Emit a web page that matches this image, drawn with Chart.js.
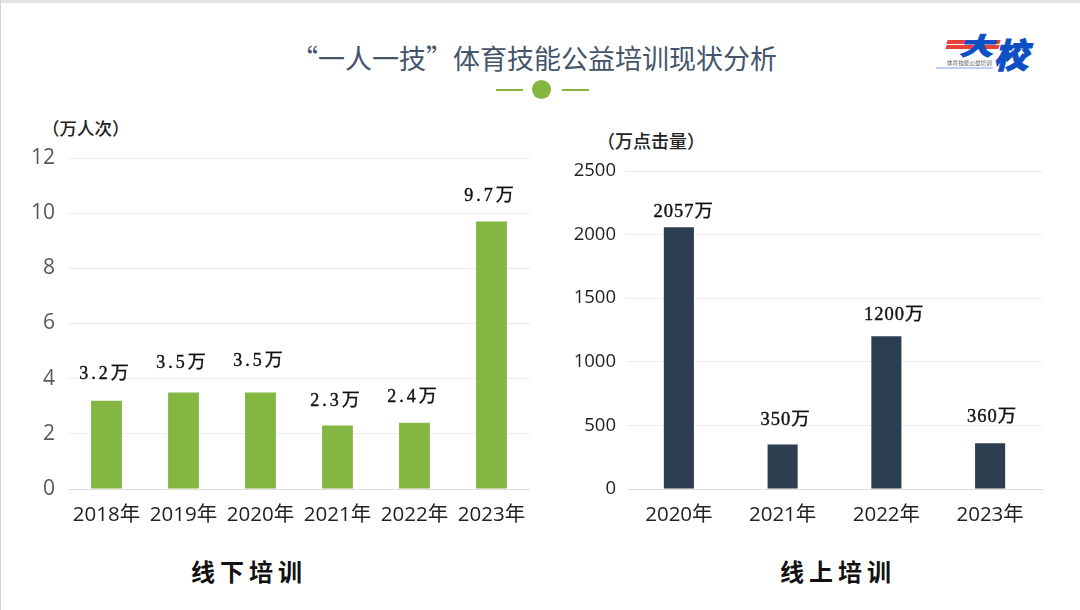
<!DOCTYPE html>
<html lang="zh">
<head>
<meta charset="utf-8">
<script src="https://cdn.jsdelivr.net/npm/chart.js@4"></script>
<style>
  html, body { margin: 0; padding: 0; background: #fff; }
  #page { position: relative; width: 1080px; height: 610px; overflow: hidden; background: #fff;
    font-family: "Noto Sans CJK SC", sans-serif; }
  #page .topline { position: absolute; left: 0; top: 0; width: 1080px; height: 3px; background: #e2e2e2; }
  #page .leftline { position: absolute; left: 0; top: 0; width: 1px; height: 610px; background: #d4d4d4; }
  .abs { position: absolute; white-space: nowrap; }
  #title { left: 291px; top: 39px; font-size: 27px; line-height: 38px; color: #44546a; }
  .dash { position: absolute; top: 89px; width: 27px; height: 2px; background: #84b642; }
  #dot { position: absolute; left: 532px; top: 80px; width: 19px; height: 19px; border-radius: 50%; background: #84b642; }
  canvas { position: absolute; }
  .unit { font-weight: 500; color: #222; line-height: 20px; }
  .caption { font-size: 24px; font-weight: 700; letter-spacing: 5px; color: #111; line-height: 34px; }
  .stripe { position: absolute; background: #e8413a; height: 4px; transform: skewX(-20deg); }
  #logoA, #logoB { font-weight: 900; color: #0f4fc4; font-style: italic; -webkit-text-stroke: 1px #0f4fc4; }
  #logoA { left: 959px; top: 33px; font-size: 34px; line-height: 34px; transform: scale(1, 0.72); transform-origin: top; }
  #logoB { left: 994px; top: 36px; font-size: 34px; line-height: 36px; }
  #logoSub { left: 947px; top: 60px; font-size: 5.6px; line-height: 7px; color: #555; }
  #logoLine { position: absolute; left: 936px; top: 67px; width: 57px; height: 2px; background: #bcd0f0; }
</style>
</head>
<body>
<div id="page">
  <div class="topline"></div>
  <div class="leftline"></div>
  <div id="title" class="abs">“一人一技”体育技能公益培训现状分析</div>
  <div class="dash" style="left:496px"></div>
  <div id="dot"></div>
  <div class="dash" style="left:562px"></div>

  <div class="stripe" style="left:947px;top:40px;width:53px"></div>
  <div class="stripe" style="left:946px;top:45px;width:53px"></div>
  <div id="logoA" class="abs">大</div>
  <div id="logoB" class="abs">校</div>
  <div id="logoSub" class="abs">体育技能公益培训</div>
  <div id="logoLine"></div>

  <div class="abs unit" style="left:42px;top:118px;font-size:17.5px">（万人次）</div>
  <div class="abs unit" style="left:597px;top:130px;font-size:18px">（万点击量）</div>

  <canvas id="offlineChart" style="left:0;top:140px"></canvas>
  <canvas id="onlineChart" style="left:550px;top:150px"></canvas>

  <div class="abs caption" style="left:191px;top:554px">线下培训</div>
  <div class="abs caption" style="left:780px;top:554px">线上培训</div>
</div>

<script>
  const offlineYears = ['2018年', '2019年', '2020年', '2021年', '2022年', '2023年'];
  const offlineValues = [3.2, 3.5, 3.5, 2.3, 2.4, 9.7];
  const offlineLabels = ['3.2万', '3.5万', '3.5万', '2.3万', '2.4万', '9.7万'];
  const offlineTicks = [0, 2, 4, 6, 8, 10, 12];

  const onlineYears = ['2020年', '2021年', '2022年', '2023年'];
  const onlineValues = [2057, 350, 1200, 360];
  const onlineLabels = ['2057万', '350万', '1200万', '360万'];
  const onlineTicks = [0, 500, 1000, 1500, 2000, 2500];

  // the labels sit unevenly around the bars in the original
  const offlineLift = [26, 29, 31, 24, 26, 25];
  const offlineNudge = [-1, -1, -1, -1, -1, -1];
  const onlineLift = [15, 24, 21, 26];
  const onlineNudge = [5, 3, 8, 2];

  const tickFont = '"Open Sans", "Noto Sans CJK SC", sans-serif';

  const barLabels = {
    id: 'barLabels',
    afterDatasetsDraw(chart, args, opts) {
      const { ctx } = chart;
      const bars = chart.getDatasetMeta(0).data;
      ctx.save();
      ctx.font = opts.font;
      ctx.letterSpacing = opts.spacing;
      ctx.fillStyle = '#111';
      ctx.strokeStyle = '#111';
      ctx.lineWidth = 0.4;
      ctx.textAlign = 'center';
      ctx.textBaseline = 'middle';
      bars.forEach((bar, i) => {
        ctx.fillText(opts.texts[i], bar.x + opts.nudge[i], bar.y - opts.lift[i]);
        ctx.strokeText(opts.texts[i], bar.x + opts.nudge[i], bar.y - opts.lift[i]);
      });
      ctx.restore();
    },
  };

  function createChart(id, width, height, cfg) {
    const canvas = document.getElementById(id);
    canvas.style.width = width + 'px';
    canvas.style.height = height + 'px';
    canvas.width = width;
    canvas.height = height;
    return new Chart(canvas.getContext('2d'), {
      type: 'bar',
      data: {
        labels: cfg.years,
        datasets: [{
          data: cfg.values,
          backgroundColor: cfg.color,
          categoryPercentage: 1,
          barPercentage: cfg.barPercentage,
        }],
      },
      plugins: [barLabels],
      options: {
        responsive: false,
        animation: false,
        layout: { padding: { top: cfg.top, right: cfg.right, left: 0, bottom: 0 } },
        plugins: {
          legend: { display: false },
          tooltip: { enabled: false },
          barLabels: { texts: cfg.texts, lift: cfg.lift, nudge: cfg.nudge, font: cfg.labelFont, spacing: cfg.spacing },
        },
        scales: {
          x: {
            grid: { display: false, drawTicks: false },
            border: { color: '#dddddd' },
            ticks: {
              color: '#222',
              maxRotation: 0,
              autoSkip: false,
              padding: 14,
              font: { family: tickFont, size: 20.5 },
            },
            afterFit: (scale) => { scale.height = cfg.bottom; },
          },
          y: {
            min: cfg.ticks[0],
            max: cfg.ticks[cfg.ticks.length - 1],
            afterBuildTicks: (scale) => { scale.ticks = cfg.ticks.map(value => ({ value })); },
            grid: { color: '#ececec', drawTicks: false },
            border: { display: false },
            ticks: {
              color: cfg.tickColor,
              padding: cfg.tickPadding,
              callback: (value) => String(value),
              font: { family: tickFont, size: cfg.tickSize },
            },
            afterFit: (scale) => {
              scale.width = cfg.axisWidth;
              scale.paddingTop = 0;
              scale.paddingBottom = 0;
            },
          },
        },
      },
    });
  }

  createChart('offlineChart', 540, 400, {
    years: offlineYears,
    values: offlineValues,
    texts: offlineLabels,
    lift: offlineLift,
    nudge: offlineNudge,
    ticks: offlineTicks,
    color: '#84b642',
    barPercentage: 0.4,
    top: 18,
    right: 10,
    bottom: 51,
    axisWidth: 68,
    tickColor: '#595959',
    tickSize: 21,
    tickPadding: 13,
    labelFont: '400 18px "Liberation Serif", "Noto Sans CJK SC"',
    spacing: '3px',
  });

  createChart('onlineChart', 500, 390, {
    years: onlineYears,
    values: onlineValues,
    texts: onlineLabels,
    lift: onlineLift,
    nudge: onlineNudge,
    ticks: onlineTicks,
    color: '#2c3e50',
    barPercentage: 0.29,
    top: 21,
    right: 8,
    bottom: 51,
    axisWidth: 77,
    tickColor: '#222',
    tickSize: 18.5,
    tickPadding: 11,
    labelFont: '400 18.5px "Liberation Serif", "Noto Sans CJK SC"',
    spacing: '1px',
  });
</script>
</body>
</html>
